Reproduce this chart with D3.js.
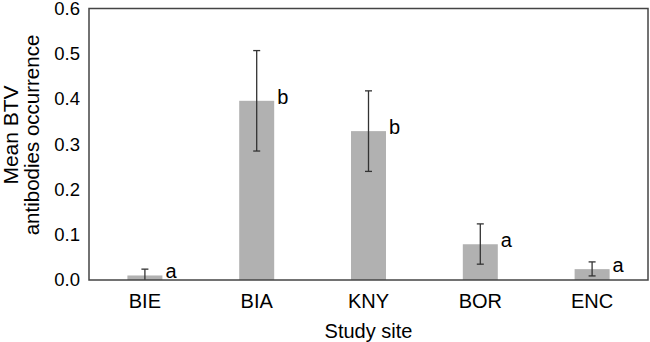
<!DOCTYPE html>
<html lang="en">
<head>
    <meta charset="UTF-8">
    <title>Mean BTV antibodies occurrence by study site</title>
    <script src="https://d3js.org/d3.v7.min.js"></script>
    <style>
        body {
            margin: 0;
            background: #fff;
            font-family: "Liberation Sans", Arial, sans-serif;
        }

        .axis text {
            fill: #000;
        }

        .bar {
            fill: #b1b1b1;
        }

        .err {
            stroke: #333;
            stroke-width: 1.3;
        }
    </style>
</head>
<body>
    <svg id="chart"></svg>
    <script>
        // values
        const sites = ["BIE", "BIA", "KNY", "BOR", "ENC"];
        const means = [0.010, 0.396, 0.329, 0.079, 0.024];
        const lower = [0.000, 0.285, 0.240, 0.035, 0.009];
        const upper = [0.024, 0.507, 0.418, 0.124, 0.040];
        const letters = ["a", "b", "b", "a", "a"];
        const yTicks = [0, 0.1, 0.2, 0.3, 0.4, 0.5, 0.6];

        const W = 650, H = 342;
        const plotL = 89, plotR = 648, plotT = 8.5, plotB = 280;

        const svg = d3.select("#chart")
            .attr("width", W)
            .attr("height", H);

        const x = d3.scaleBand()
            .domain(sites)
            .range([plotL, plotR])
            .paddingInner(0.687)
            .paddingOuter(0.3435);

        const y = d3.scaleLinear()
            .domain([0, 0.6])
            .range([plotB, plotT]);

        const data = sites.map((s, i) => ({
            site: s, mean: means[i], lo: lower[i], hi: upper[i], letter: letters[i]
        }));

        // bars
        svg.selectAll(".bar")
            .data(data)
            .enter()
            .append("rect")
            .attr("class", "bar")
            .attr("x", d => x(d.site))
            .attr("width", x.bandwidth())
            .attr("y", d => y(d.mean))
            .attr("height", d => y(0) - y(d.mean));

        // error bars
        const cap = 3.5;
        const eb = svg.selectAll(".eb")
            .data(data)
            .enter()
            .append("g")
            .attr("class", "eb");

        eb.append("line")
            .attr("class", "err")
            .attr("x1", d => x(d.site) + x.bandwidth() / 2)
            .attr("x2", d => x(d.site) + x.bandwidth() / 2)
            .attr("y1", d => y(d.lo))
            .attr("y2", d => y(d.hi));

        eb.append("line")
            .attr("class", "err")
            .attr("x1", d => x(d.site) + x.bandwidth() / 2 - cap)
            .attr("x2", d => x(d.site) + x.bandwidth() / 2 + cap)
            .attr("y1", d => y(d.hi))
            .attr("y2", d => y(d.hi));

        eb.filter(d => d.lo > 0).append("line")
            .attr("class", "err")
            .attr("x1", d => x(d.site) + x.bandwidth() / 2 - cap)
            .attr("x2", d => x(d.site) + x.bandwidth() / 2 + cap)
            .attr("y1", d => y(d.lo))
            .attr("y2", d => y(d.lo));

        // significance letters
        svg.selectAll(".letter")
            .data(data)
            .enter()
            .append("text")
            .attr("class", "letter")
            .attr("x", d => x(d.site) + x.bandwidth() + 3)
            .attr("y", d => y(d.mean) + 3)
            .attr("font-size", 20)
            .attr("fill", "#000")
            .text(d => d.letter);

        // axes
        svg.append("g")
            .attr("class", "axis")
            .attr("transform", `translate(${plotL},0)`)
            .call(d3.axisLeft(y).tickValues(yTicks).tickSize(0).tickPadding(9).tickFormat(d3.format(".1f")))
            .call(g => g.select(".domain").remove())
            .call(g => g.selectAll("text").attr("font-size", 18.5).attr("font-family", null));

        svg.append("g")
            .attr("class", "axis")
            .attr("transform", `translate(0,${plotB})`)
            .call(d3.axisBottom(x).tickSize(0).tickPadding(13.5))
            .call(g => g.select(".domain").remove())
            .call(g => g.selectAll("text").attr("font-size", 20).attr("font-family", null));

        // frame
        svg.append("rect")
            .attr("x", plotL)
            .attr("y", plotT)
            .attr("width", plotR - plotL)
            .attr("height", plotB - plotT)
            .attr("fill", "none")
            .attr("stroke", "#444")
            .attr("stroke-width", 1.5);

        // axis titles
        svg.append("text")
            .attr("x", (plotL + plotR) / 2)
            .attr("y", 338)
            .attr("text-anchor", "middle")
            .attr("font-size", 20)
            .attr("fill", "#000")
            .text("Study site");

        const midY = 135;
        svg.append("text")
            .attr("transform", `translate(18,${midY}) rotate(-90)`)
            .attr("text-anchor", "middle")
            .attr("font-size", 21)
            .attr("fill", "#000")
            .text("Mean BTV");

        svg.append("text")
            .attr("transform", `translate(39,${midY}) rotate(-90)`)
            .attr("text-anchor", "middle")
            .attr("font-size", 20.5)
            .attr("fill", "#000")
            .text("antibodies occurrence");
    </script>
</body>
</html>
